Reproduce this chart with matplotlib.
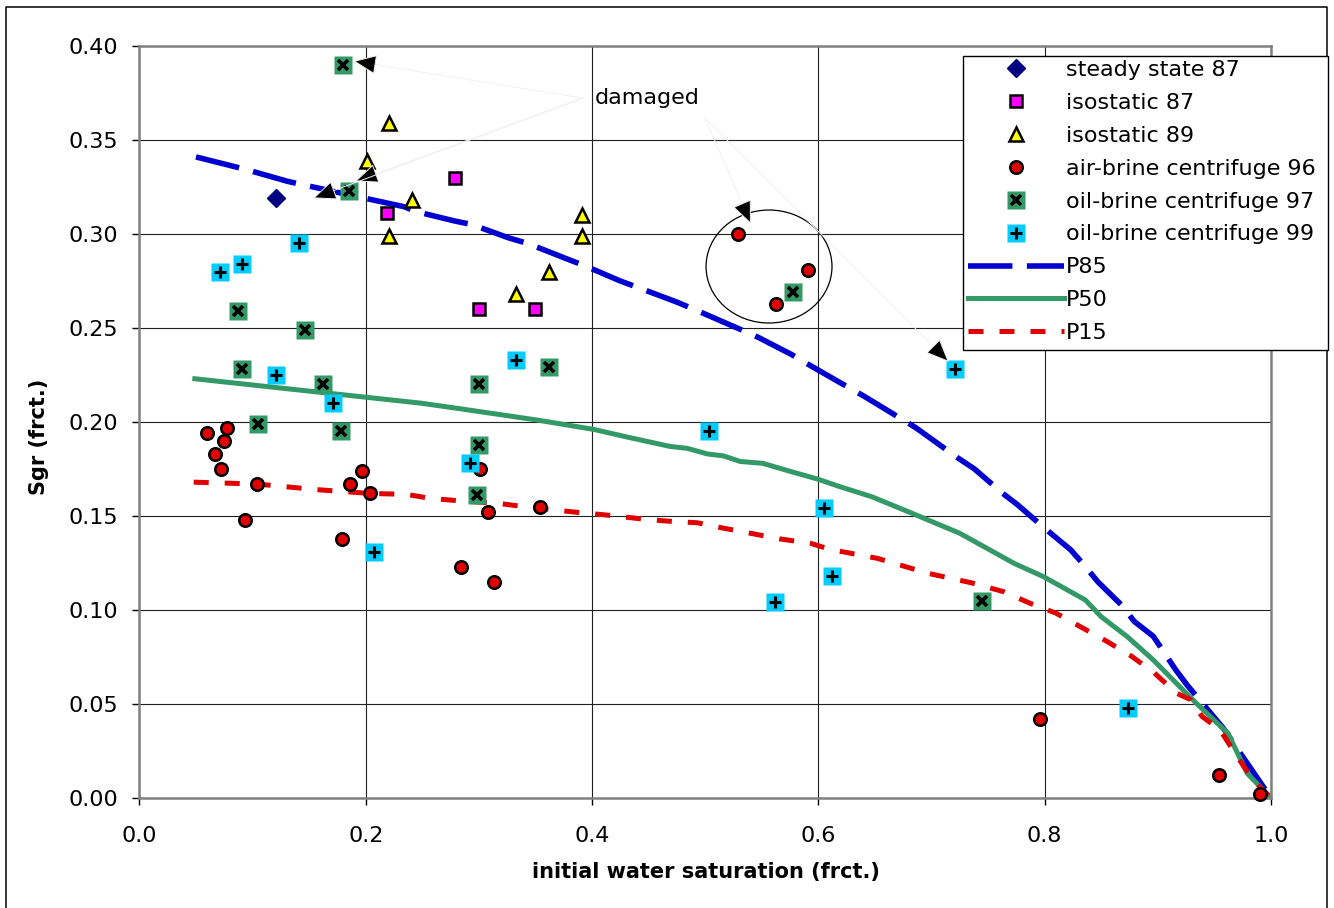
import numpy as np
import matplotlib
matplotlib.use('Agg')
import matplotlib.pyplot as plt
from matplotlib.patches import Ellipse, Rectangle
from matplotlib.lines import Line2D

plt.rcParams['font.family'] = ['DejaVu Sans']

# ---- data ----
ss87_x = [0.121]
ss87_y = [0.319]

iso87_x = [0.219, 0.279, 0.300, 0.350]
iso87_y = [0.311, 0.330, 0.260, 0.260]

iso89_x = [0.221, 0.201, 0.241, 0.221, 0.391, 0.391, 0.362, 0.333]
iso89_y = [0.359, 0.339, 0.318, 0.299, 0.310, 0.299, 0.280, 0.268]

ab96_x = [0.060, 0.077, 0.075, 0.067, 0.072, 0.104, 0.093, 0.179, 0.186, 0.197, 0.204,
          0.301, 0.308, 0.354, 0.284, 0.313, 0.529, 0.591, 0.563, 0.796, 0.954, 0.990]
ab96_y = [0.194, 0.197, 0.190, 0.183, 0.175, 0.167, 0.148, 0.138, 0.167, 0.174, 0.162,
          0.175, 0.152, 0.155, 0.123, 0.115, 0.300, 0.281, 0.263, 0.042, 0.012, 0.002]

ob97_x = [0.180, 0.185, 0.087, 0.146, 0.091, 0.162, 0.105, 0.178, 0.362, 0.300, 0.300,
          0.298, 0.578, 0.745]
ob97_y = [0.390, 0.323, 0.259, 0.249, 0.228, 0.220, 0.199, 0.195, 0.229, 0.220, 0.188,
          0.161, 0.269, 0.105]

ob99_x = [0.071, 0.091, 0.141, 0.121, 0.171, 0.333, 0.292, 0.503, 0.605, 0.612, 0.562,
          0.207, 0.721, 0.874]
ob99_y = [0.280, 0.284, 0.295, 0.225, 0.210, 0.233, 0.178, 0.195, 0.154, 0.118, 0.104,
          0.131, 0.228, 0.048]

p85_x = [0.05, 0.083, 0.096, 0.131, 0.146, 0.234, 0.244, 0.278, 0.294, 0.326, 0.343, 0.381,
         0.394, 0.425, 0.443, 0.474, 0.490, 0.534, 0.547, 0.576, 0.593, 0.619, 0.641, 0.671,
         0.686, 0.723, 0.738, 0.763, 0.776, 0.799, 0.823, 0.834, 0.847, 0.869, 0.879, 0.896,
         0.916, 0.926, 0.958, 0.967, 1.0]
p85_y = [0.341, 0.336, 0.334, 0.328, 0.326, 0.3145, 0.312, 0.307, 0.305, 0.298, 0.295, 0.286,
         0.283, 0.275, 0.271, 0.264, 0.260, 0.2485, 0.245, 0.236, 0.230, 0.221, 0.2135, 0.2025,
         0.197, 0.181, 0.175, 0.162, 0.156, 0.144, 0.132, 0.1245, 0.115, 0.102, 0.094, 0.086,
         0.068, 0.060, 0.037, 0.029, 0.0]

p50_x = [0.049, 0.249, 0.284, 0.352, 0.402, 0.431, 0.469, 0.484, 0.502, 0.516, 0.531, 0.551,
         0.576, 0.599, 0.619, 0.647, 0.683, 0.725, 0.773, 0.799, 0.825, 0.836, 0.850, 0.873,
         0.896, 0.915, 0.934, 0.962, 0.979, 1.0]
p50_y = [0.223, 0.210, 0.207, 0.201, 0.196, 0.192, 0.187, 0.186, 0.183, 0.182, 0.179, 0.178,
         0.1736, 0.1697, 0.1656, 0.1603, 0.1514, 0.1408, 0.1248, 0.1177, 0.109, 0.1053, 0.0964,
         0.0858, 0.0734, 0.0619, 0.0504, 0.0344, 0.0131, 0.0]

p15_x = [0.048, 0.104, 0.157, 0.204, 0.236, 0.257, 0.284, 0.316, 0.345, 0.386, 0.413, 0.440,
         0.466, 0.493, 0.513, 0.540, 0.566, 0.593, 0.610, 0.652, 0.697, 0.735, 0.764, 0.787,
         0.810, 0.855, 0.877, 0.897, 0.916, 0.929, 0.939, 0.955, 0.968, 0.984, 1.0]
p15_y = [0.168, 0.167, 0.164, 0.162, 0.1615, 0.1594, 0.158, 0.1568, 0.1546, 0.152, 0.1505, 0.1487,
         0.1473, 0.1464, 0.1439, 0.1408, 0.1378, 0.1355, 0.1323, 0.1275, 0.1195, 0.1145, 0.1097,
         0.1036, 0.0983, 0.0833, 0.0753, 0.0665, 0.0559, 0.0523, 0.0434, 0.0363, 0.0239, 0.0097, 0.0]

labels = ['steady state 87', 'isostatic 87', 'isostatic 89', 'air-brine centrifuge 96',
          'oil-brine centrifuge 97', 'oil-brine centrifuge 99', 'P85', 'P50', 'P15']

# "damaged" annotation: arrow tips
damaged_left = [(0.189, 0.392), (0.1905, 0.328), (0.1534, 0.319)]
damaged_right = [(0.5404, 0.3053), (0.7154, 0.2319)]

# ---- figure ----
W, H = 1334, 908
fig = plt.figure(figsize=(W / 100, H / 100), dpi=100)
ax = fig.add_axes([139.4 / W, 1 - 798 / H, (1271 - 139.4) / W, (798 - 46) / H])

# curves
hp85, = ax.plot(p85_x, p85_y, color='#0000D0', lw=4.0, dashes=(8, 2.6), solid_capstyle='butt',
                dash_capstyle='butt', zorder=2)
hp50, = ax.plot(p50_x, p50_y, color='#339966', lw=3.6, zorder=2)
hp15, = ax.plot(p15_x, p15_y, color='#E00000', lw=3.6, dashes=(3, 3.2), dash_capstyle='butt', zorder=2)

# points
hss, = ax.plot(ss87_x, ss87_y, ls='none', marker='D', ms=9, mfc='#000080', mec='#000080', zorder=4,
               clip_on=False)
hi87, = ax.plot(iso87_x, iso87_y, ls='none', marker='s', ms=9, mfc='#FF00FF', mec='black', mew=1.8,
                zorder=4, clip_on=False)
hi89, = ax.plot(iso89_x, iso89_y, ls='none', marker='^', ms=10.5, mfc='#FFFF00', mec='black', mew=1.8,
                zorder=4, clip_on=False)
hab, = ax.plot(ab96_x, ab96_y, ls='none', marker='o', ms=9, mfc='#E00000', mec='black', mew=1.8,
               zorder=4, clip_on=False)
h97a, = ax.plot(ob97_x, ob97_y, ls='none', marker='s', ms=13.5, mfc='#339966', mec='none', zorder=5,
                clip_on=False)
h97b, = ax.plot(ob97_x, ob97_y, ls='none', marker='x', ms=6.5, mec='black', mew=2.6, zorder=5,
                clip_on=False)
h99a, = ax.plot(ob99_x, ob99_y, ls='none', marker='s', ms=13.5, mfc='#00CCFF', mec='none', zorder=6,
                clip_on=False)
h99b, = ax.plot(ob99_x, ob99_y, ls='none', marker='+', ms=8.5, mec='black', mew=2.2, zorder=6,
                clip_on=False)

# circle and "damaged" note
ax.add_patch(Ellipse((0.5564, 0.2827), 0.1113, 0.0601, fill=False, ec='black', lw=0.9, zorder=3))
ax.text(0.402, 0.3723, 'damaged', fontsize=16, ha='left', va='center', zorder=7)
aprops = dict(arrowstyle='-|>,head_length=0.75,head_width=0.32', mutation_scale=20,
              fc='black', ec='#f0f0f0', lw=0.7, shrinkA=0, shrinkB=0)
for tip in damaged_left:
    ax.annotate('', xy=tip, xytext=(0.392, 0.3723), arrowprops=aprops, zorder=7)
for tip in damaged_right:
    ax.annotate('', xy=tip, xytext=(0.4998, 0.3617), arrowprops=aprops, zorder=7)

# axes styling
ax.set_xlim(0, 1)
ax.set_ylim(0, 0.4)
ax.set_xticks(np.arange(0, 1.01, 0.2))
ax.set_yticks(np.arange(0, 0.401, 0.05))
ax.xaxis.set_major_formatter(matplotlib.ticker.FormatStrFormatter('%.1f'))
ax.yaxis.set_major_formatter(matplotlib.ticker.FormatStrFormatter('%.2f'))
ax.tick_params(direction='out', length=5, width=1, colors='black', labelsize=16)
ax.tick_params(axis='y', pad=10)
ax.tick_params(axis='x', pad=15)
ax.grid(True, color='#202020', lw=0.8)
ax.set_axisbelow(True)
for s in ax.spines.values():
    s.set_color('#808080')
    s.set_linewidth(1.8)

fig.text(706 / W, 1 - 872 / H, 'initial water saturation (frct.)', fontsize=15, fontweight='bold',
         ha='center', va='center')
fig.text(39 / W, 1 - 437 / H, 'Sgr (frct.)', fontsize=15, fontweight='bold', rotation=90,
         ha='center', va='center')

# outer chart frame (bottom edge falls outside the picture)
fig.add_artist(Line2D([5.5 / W, 5.5 / W, 1327 / W, 1327 / W], [0, 1 - 6.5 / H, 1 - 6.5 / H, 0],
                      transform=fig.transFigure, color='black', lw=1.1))

# legend box + legend
fig.add_artist(Rectangle((963 / W, 1 - 350 / H), 365 / W, 294 / H, transform=fig.transFigure,
                         fc='white', ec='black', lw=1.0, zorder=3))
handles = [hss, hi87, hi89, hab, (h97a, h97b), (h99a, h99b), hp85, hp50, hp15]
leg = fig.legend(handles, labels, loc='upper left', bbox_to_anchor=(968 / W, 1 - 60 / H),
                 frameon=False, fontsize=16, handlelength=4.32, handletextpad=0.1,
                 labelspacing=0.58, borderpad=0, borderaxespad=0, numpoints=1)
leg.set_zorder(5)

fig.savefig('out.png', dpi=100)
